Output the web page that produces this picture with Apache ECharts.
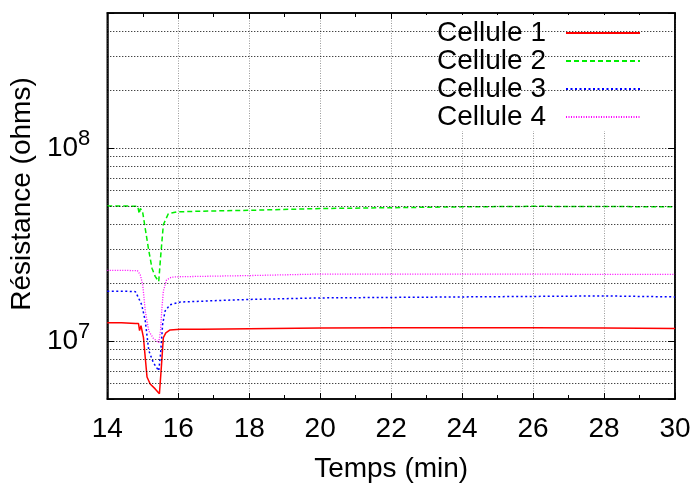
<!DOCTYPE html>
<html>
<head>
<meta charset="utf-8">
<script src="https://cdn.jsdelivr.net/npm/echarts@6/dist/echarts.min.js"></script>
<style>html,body{margin:0;padding:0;background:#fff}#c{width:696px;height:488px}</style>
</head>
<body>
<div id="c"></div>
<script>
// ---- Data ----
var seriesNames = ['Cellule 1', 'Cellule 2', 'Cellule 3', 'Cellule 4'];

var cell1Time = [14.0, 14.4, 14.8, 14.88, 14.91, 14.95, 15.02, 15.07, 15.12, 15.21, 15.35, 15.47, 15.53, 15.58, 15.65, 15.77, 16.06, 16.65, 18.0, 20.0, 22.0, 24.0, 26.0, 28.0, 30.0];
var cell1Ohms = [1.24e7, 1.24e7, 1.23e7, 1.23e7, 1.13e7, 1.2e7, 1.04e7, 8.2e6, 6.5e6, 5.98e6, 5.64e6, 5.32e6, 7.6e6, 1.04e7, 1.10e7, 1.14e7, 1.15e7, 1.148e7, 1.157e7, 1.165e7, 1.17e7, 1.17e7, 1.17e7, 1.165e7, 1.16e7];

var cell2Time = [14.0, 14.5, 14.86, 14.9, 14.93, 14.99, 15.07, 15.16, 15.26, 15.35, 15.45, 15.5, 15.58, 15.72, 15.96, 16.65, 18.0, 20.0, 22.0, 24.0, 26.0, 28.0, 30.0];
var cell2Ohms = [5.0e7, 5.0e7, 4.98e7, 4.56e7, 4.85e7, 4.74e7, 3.82e7, 3.01e7, 2.38e7, 2.16e7, 2.03e7, 2.68e7, 4.0e7, 4.56e7, 4.66e7, 4.7e7, 4.75e7, 4.85e7, 4.9e7, 4.95e7, 4.98e7, 4.97e7, 4.95e7];

var cell3Time = [14.0, 14.5, 14.79, 14.86, 14.97, 15.07, 15.17, 15.3, 15.45, 15.5, 15.56, 15.63, 15.77, 16.06, 17.18, 18.0, 20.0, 22.0, 24.0, 26.0, 28.0, 30.0];
var cell3Ohms = [1.81e7, 1.81e7, 1.80e7, 1.70e7, 1.54e7, 1.27e7, 8.9e6, 7.7e6, 7.0e6, 8.5e6, 1.22e7, 1.43e7, 1.54e7, 1.59e7, 1.62e7, 1.64e7, 1.67e7, 1.68e7, 1.69e7, 1.70e7, 1.71e7, 1.69e7];

var cell4Time = [14.0, 14.5, 14.85, 14.93, 15.0, 15.07, 15.17, 15.3, 15.45, 15.5, 15.54, 15.58, 15.67, 15.81, 16.04, 16.65, 18.0, 20.0, 22.0, 24.0, 26.0, 28.0, 30.0];
var cell4Ohms = [2.32e7, 2.32e7, 2.31e7, 2.2e7, 1.95e7, 1.43e7, 1.125e7, 1.03e7, 9.8e6, 1.125e7, 1.48e7, 1.81e7, 2.07e7, 2.14e7, 2.15e7, 2.16e7, 2.18e7, 2.22e7, 2.22e7, 2.22e7, 2.22e7, 2.21e7, 2.21e7];

// axis ranges / ticks
var xMin = 14, xMax = 30, xStep = 2;
var yMin = 5e6, yMax = 5e8;
// horizontal (log) grid lines
var yGridValues = [6e6, 7e6, 8e6, 9e6, 1e7, 2e7, 3e7, 4e7, 5e7, 6e7, 7e7, 8e7, 9e7, 1e8, 2e8, 3e8, 4e8];

// ---- Chart ----
var FONT = '"Liberation Sans", Arial, Helvetica, sans-serif';
var FS = 28;
function pairs(t, v) { return t.map(function (x, i) { return [x, v[i]]; }); }

var chart = echarts.init(document.getElementById('c'), null, { renderer: 'canvas' });

var lineStyles = [
  { color: '#ff0000', width: 1.5, type: 'solid' },
  { color: '#00ee00', width: 1.5, type: [5, 3] },
  { color: '#0000ff', width: 1.5, type: [2, 2.5] },
  { color: '#ff00ff', width: 1.3, type: [1, 1.5] }
];
var dataSets = [pairs(cell1Time, cell1Ohms), pairs(cell2Time, cell2Ohms), pairs(cell3Time, cell3Ohms), pairs(cell4Time, cell4Ohms)];

var series = [{
  type: 'line', data: [], silent: true, z: 1,
  markLine: {
    silent: true, symbol: 'none', animation: false,
    label: { show: false },
    lineStyle: { color: '#000', type: [1, 2], width: 1 },
    emphasis: { disabled: true },
    data: yGridValues.map(function (v) { return { yAxis: v }; })
  }
}];
seriesNames.forEach(function (n, i) {
  series.push({
    name: n, type: 'line', data: dataSets[i], symbol: 'none', showSymbol: false,
    z: 3, color: lineStyles[i].color,
    lineStyle: lineStyles[i],
    emphasis: { disabled: true }
  });
});

chart.setOption({
  animation: false,
  backgroundColor: '#fff',
  textStyle: { fontFamily: FONT },
  grid: { left: 107, right: 21, top: 13, bottom: 86, show: true, borderColor: '#000', borderWidth: 1.5, backgroundColor: 'transparent' },
  legend: {
    data: seriesNames, orient: 'vertical', right: 41, top: 15,
    align: 'right', itemWidth: 74, itemHeight: 14, itemGap: 0,
    padding: [4, 14, 0, 15], backgroundColor: '#fff',
    itemStyle: { opacity: 0 },
    textStyle: { fontSize: FS, color: '#000', fontFamily: FONT, lineHeight: 28, padding: [0, 15, 0, 0] },
    selectedMode: false
  },
  xAxis: [{
    type: 'value', min: xMin, max: xMax, interval: xStep,
    name: 'Temps (min)', nameLocation: 'middle', nameGap: 56,
    nameTextStyle: { fontSize: FS, color: '#000', fontFamily: FONT },
    axisLine: { show: true, lineStyle: { color: '#000', width: 1.5 } },
    axisTick: { show: true, inside: true, length: 6, lineStyle: { color: '#000' } },
    minorTick: { show: true, splitNumber: 2, length: 4, lineStyle: { color: '#000' } },
    axisLabel: { fontSize: FS, color: '#000', margin: 16, fontFamily: FONT },
    splitLine: { show: true, lineStyle: { color: '#999', type: [1, 1.5], width: 1 } }
  }, {
    type: 'value', min: xMin, max: xMax, interval: xStep, position: 'top',
    axisLine: { show: true, lineStyle: { color: '#000', width: 1.5 } },
    axisTick: { show: true, inside: true, length: 6, lineStyle: { color: '#000' } },
    minorTick: { show: true, splitNumber: 2, length: 4, lineStyle: { color: '#000' } },
    axisLabel: { show: false },
    splitLine: { show: false }
  }],
  yAxis: [{
    type: 'log', logBase: 10, min: yMin, max: yMax,
    name: 'Résistance (ohms)', nameLocation: 'middle', nameGap: 68, nameRotate: 90,
    nameTextStyle: { fontSize: FS, color: '#000', fontFamily: FONT, padding: [0, 0, 0, 24] },
    axisLine: { show: true, lineStyle: { color: '#000', width: 1.5 } },
    axisTick: { show: true, inside: true, length: 7, lineStyle: { color: '#000' } },
    axisLabel: {
      margin: 17,
      formatter: function (v) {
        var e = Math.log10(v);
        if (Math.abs(e - Math.round(e)) > 1e-6) return '';
        return '{a|10}{b|' + Math.round(e) + '}';
      },
      rich: {
        a: { fontSize: FS, lineHeight: 40, color: '#000', fontFamily: FONT },
        b: { fontSize: 22, lineHeight: 21, verticalAlign: 'top', color: '#000', fontFamily: FONT }
      }
    },
    splitLine: { show: false }
  }, {
    type: 'log', logBase: 10, min: yMin, max: yMax, position: 'right',
    axisLine: { show: true, lineStyle: { color: '#000', width: 1.5 } },
    axisTick: { show: true, inside: true, length: 7, lineStyle: { color: '#000' } },
    axisLabel: { show: false },
    splitLine: { show: false }
  }],
  series: series
});
</script>
</body>
</html>
